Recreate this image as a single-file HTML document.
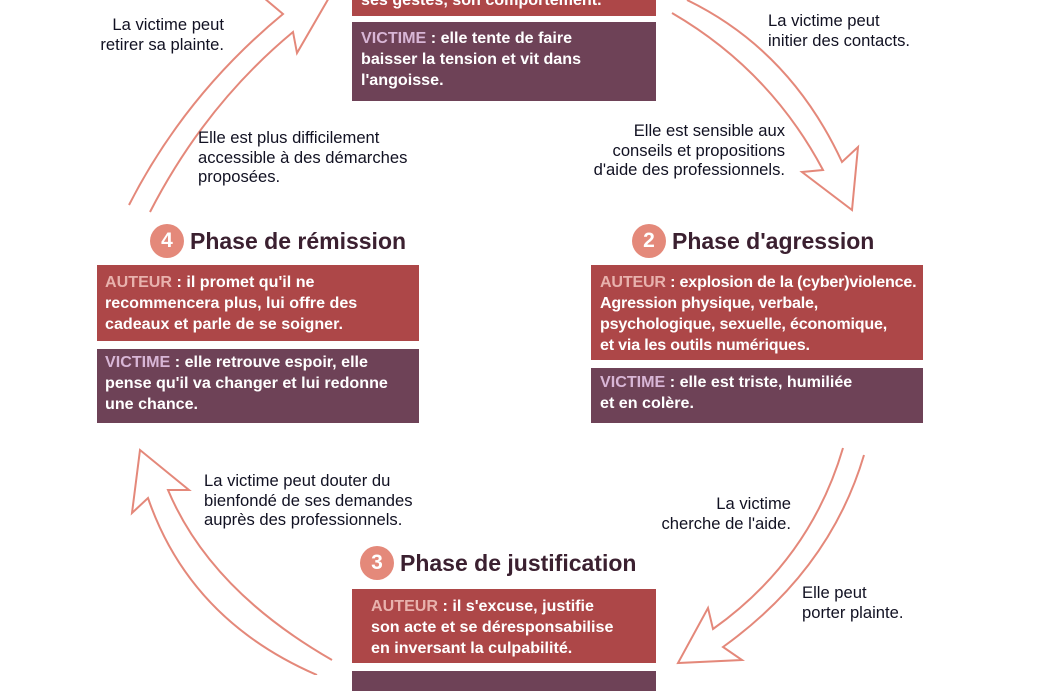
<!DOCTYPE html>
<html><head><meta charset="utf-8">
<style>
body{margin:0;width:1052px;height:675px;overflow:hidden;background:#fff;position:relative;font-family:"Liberation Sans",sans-serif;}
.b{position:absolute;color:#fff;font-weight:bold;font-size:16.1px;line-height:21px;white-space:nowrap;box-sizing:border-box;}
.r{background:#ad4748;}
.p{background:#6e4257;}
.la{color:#e8b2ad;}
.lv{color:#d8b6d6;}
.t{position:absolute;font-size:16.6px;line-height:19.5px;color:#111122;white-space:nowrap;}
.h{position:absolute;font-weight:bold;font-size:23px;color:#3b2030;white-space:nowrap;line-height:26px;}
.c{display:inline-block;width:34px;height:34px;border-radius:50%;background:#e4897a;color:#fff;text-align:center;line-height:34px;font-size:21px;margin-right:6px;vertical-align:middle;position:relative;top:-2px;}
svg{position:absolute;left:0;top:0;}
</style></head><body>
<svg width="1052" height="675" fill="none" stroke="#e4887a" stroke-width="2" stroke-linejoin="miter">
<path d="M129,205 Q185,95 283,14 L264,-2"/>
<path d="M150,212 Q205,105 293,32 L297,53 L330,-4"/>
<path d="M672,13 Q770,70 823,170 L802,172 L852,210 L858,147 L842,162 Q790,50 687,0"/>
<path d="M843,448 Q810,560 713,629 L708,608 L678,663 L742,660 L723,647 Q830,570 864,455"/>
<path d="M332,660 Q210,590 168,490 L189,490 L140,450 L132,513 L148,498 Q190,620 317,675"/>
</svg>

<div class="b r" style="left:352px;top:-40px;width:304px;height:56px;padding:0 9px;"><div style="position:absolute;left:9px;bottom:5px;">ses gestes, son comportement.</div></div>
<div class="b p" style="left:352px;top:22px;width:304px;height:79px;padding:6px 9px;"><span class="lv">VICTIME</span> : elle tente de faire<br>baisser la tension et vit dans<br>l'angoisse.</div>

<div class="h" style="left:150px;top:226px;"><span class="c">4</span>Phase de rémission</div>
<div class="b r" style="left:97px;top:265px;width:322px;height:76px;padding:7px 8px;"><span class="la">AUTEUR</span> : il promet qu'il ne<br>recommencera plus, lui offre des<br>cadeaux et parle de se soigner.</div>
<div class="b p" style="left:97px;top:349px;width:322px;height:74px;padding:3px 8px;"><span class="lv">VICTIME</span> : elle retrouve espoir, elle<br>pense qu'il va changer et lui redonne<br>une chance.</div>

<div class="h" style="left:632px;top:226px;"><span class="c">2</span>Phase d'agression</div>
<div class="b r" style="left:591px;top:265px;width:332px;height:95px;padding:7px 9px;letter-spacing:-0.2px;"><span class="la">AUTEUR</span> : explosion de la (cyber)violence.<br>Agression physique, verbale,<br>psychologique, sexuelle, économique,<br>et via les outils numériques.</div>
<div class="b p" style="left:591px;top:368px;width:332px;height:55px;padding:4px 9px;"><span class="lv">VICTIME</span> : elle est triste, humiliée<br>et en colère.</div>

<div class="h" style="left:360px;top:548px;"><span class="c">3</span>Phase de justification</div>
<div class="b r" style="left:352px;top:589px;width:304px;height:74px;padding:7px 19px;"><span class="la">AUTEUR</span> : il s'excuse, justifie<br>son acte et se déresponsabilise<br>en inversant la culpabilité.</div>
<div class="b p" style="left:352px;top:671px;width:304px;height:20px;"></div>

<div class="t" style="right:828px;top:15px;text-align:right;">La victime peut<br>retirer sa plainte.</div>
<div class="t" style="left:198px;top:128px;">Elle est plus difficilement<br>accessible à des démarches<br>proposées.</div>
<div class="t" style="left:768px;top:11px;">La victime peut<br>initier des contacts.</div>
<div class="t" style="right:267px;top:121px;text-align:right;">Elle est sensible aux<br>conseils et propositions<br>d'aide des professionnels.</div>
<div class="t" style="right:261px;top:494px;text-align:right;">La victime<br>cherche de l'aide.</div>
<div class="t" style="left:802px;top:583px;">Elle peut<br>porter plainte.</div>
<div class="t" style="left:204px;top:471px;">La victime peut douter du<br>bienfondé de ses demandes<br>auprès des professionnels.</div>
</body></html>
